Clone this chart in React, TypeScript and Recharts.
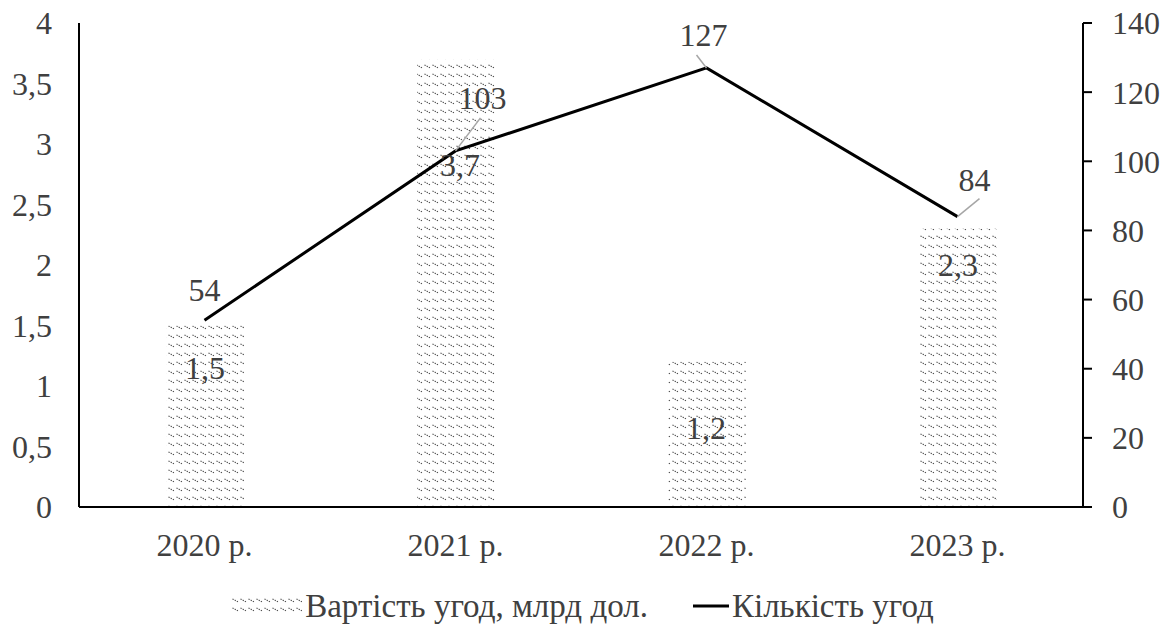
import {
  ComposedChart,
  Bar,
  Line,
  XAxis,
  YAxis,
  Legend,
  LabelList,
} from "recharts";

// ─── Data ────────────────────────────────────────────────────────────────────

const YEARS = ["2020 р.", "2021 р.", "2022 р.", "2023 р."];
const DEAL_VALUE = [1.5, 3.7, 1.2, 2.3]; // млрд дол.
const DEAL_COUNT = [54, 103, 127, 84];
const VALUE_TICKS = [0, 0.5, 1, 1.5, 2, 2.5, 3, 3.5, 4];
const COUNT_TICKS = [0, 20, 40, 60, 80, 100, 120, 140];

const VALUE_NAME = "Вартість угод, млрд дол.";
const COUNT_NAME = "Кількість угод";

const data = YEARS.map((year, i) => ({
  year,
  value: DEAL_VALUE[i],
  count: DEAL_COUNT[i],
}));

// ─── Styling ─────────────────────────────────────────────────────────────────

const FONT = "'Liberation Serif', 'Times New Roman', serif";
const TEXT = "#404040";
const FONT_SIZE = 32;

// hand-placed label offsets (relative to bar top / line point)
const BAR_LABEL_SHIFT = [
  { dx: 0, dy: 42 },
  { dx: 4, dy: 106 },
  { dx: -1, dy: 66 },
  { dx: 0, dy: 36 },
];

const LINE_LABEL_SHIFT = [
  { dx: 0, dy: -30, leader: null },
  { dx: 27, dy: -53, leader: { dx: 25, dy: -33 } },
  { dx: -3, dy: -33, leader: { dx: -10, dy: -13 } },
  { dx: 17, dy: -37, leader: { dx: 22, dy: -18 } },
];

const fmt = (v: number) => String(v).replace(".", ",");

// ─── Labels ──────────────────────────────────────────────────────────────────

function BarValueLabel(props: any) {
  const { x, y, width, value, index } = props;
  const s = BAR_LABEL_SHIFT[index] ?? { dx: 0, dy: 0 };
  return (
    <text
      x={x + width / 2 + s.dx}
      y={y + s.dy}
      textAnchor="middle"
      dominantBaseline="central"
      fontFamily={FONT}
      fontSize={FONT_SIZE}
      fill={TEXT}
    >
      {fmt(value)}
    </text>
  );
}

function CountLabel(props: any) {
  const { x, y, value, index } = props;
  const s = LINE_LABEL_SHIFT[index];
  if (!s) return null;
  return (
    <g>
      {s.leader && (
        <line
          x1={x}
          y1={y}
          x2={x + s.leader.dx}
          y2={y + s.leader.dy}
          stroke="#a6a6a6"
          strokeWidth={1.5}
        />
      )}
      <text
        x={x + s.dx}
        y={y + s.dy}
        textAnchor="middle"
        dominantBaseline="central"
        fontFamily={FONT}
        fontSize={FONT_SIZE}
        fill={TEXT}
      >
        {value}
      </text>
    </g>
  );
}

// ─── Hatch pattern ───────────────────────────────────────────────────────────

// rows of short dotted "\" strokes, like Excel's dashed diagonal fill
function HatchPattern({ id }: { id: string }) {
  return (
    <pattern id={id} width={8} height={9} patternUnits="userSpaceOnUse">
      <path
        d="M0.5 2 L6.5 5"
        stroke="#4a4a4a"
        strokeWidth={1.1}
        strokeDasharray="1.3 1.1"
      />
    </pattern>
  );
}

// ─── Legend ──────────────────────────────────────────────────────────────────

function ChartLegend() {
  const label = { fontFamily: FONT, fontSize: 33, color: TEXT };
  return (
    <div
      style={{
        display: "flex",
        justifyContent: "center",
        alignItems: "center",
        gap: 45,
        height: 46,
      }}
    >
      <div style={{ display: "flex", alignItems: "center", gap: 3 }}>
        <svg width={70} height={18}>
          <defs>
            <HatchPattern id="hatchLegend" />
          </defs>
          <rect x={0} y={1} width={70} height={17} fill="url(#hatchLegend)" />
        </svg>
        <span style={label}>{VALUE_NAME}</span>
      </div>
      <div style={{ display: "flex", alignItems: "center", gap: 3 }}>
        <svg width={36} height={18}>
          <line x1={0} y1={9} x2={36} y2={9} stroke="#000" strokeWidth={3} />
        </svg>
        <span style={label}>{COUNT_NAME}</span>
      </div>
    </div>
  );
}

// ─── Chart ───────────────────────────────────────────────────────────────────

export default function App() {
  return (
    <div style={{ width: 1166, height: 633, background: "#fff" }}>
      <style>{`body { margin: 0; }`}</style>
      <ComposedChart
        width={1166}
        height={633}
        data={data}
        margin={{ top: 23, right: 0, left: 0, bottom: 4 }}
      >
        <defs>
          <HatchPattern id="hatchBar" />
        </defs>
        <XAxis
          dataKey="year"
          height={76}
          axisLine={{ stroke: "#000", strokeWidth: 2 }}
          tickLine={false}
          tickSize={0}
          tickMargin={26}
          tick={{ fontFamily: FONT, fontSize: FONT_SIZE, fill: TEXT }}
        />
        <YAxis
          yAxisId="value"
          width={79}
          domain={[0, 4]}
          ticks={VALUE_TICKS}
          tickFormatter={fmt}
          axisLine={{ stroke: "#000", strokeWidth: 2 }}
          tickLine={false}
          tickSize={0}
          tickMargin={27}
          tick={{ fontFamily: FONT, fontSize: FONT_SIZE, fill: TEXT }}
        />
        <YAxis
          yAxisId="count"
          orientation="right"
          width={83}
          domain={[0, 140]}
          ticks={COUNT_TICKS}
          axisLine={{ stroke: "#000", strokeWidth: 2 }}
          tickLine={{ stroke: "#000", strokeWidth: 2 }}
          tickSize={9}
          tickMargin={20}
          tick={{ fontFamily: FONT, fontSize: FONT_SIZE, fill: TEXT }}
        />
        <Legend verticalAlign="bottom" height={46} content={<ChartLegend />} />
        <Bar
          yAxisId="value"
          dataKey="value"
          name={VALUE_NAME}
          barSize={78}
          fill="url(#hatchBar)"
          isAnimationActive={false}
        >
          <LabelList dataKey="value" content={(p: any) => <BarValueLabel {...p} />} />
        </Bar>
        <Line
          yAxisId="count"
          dataKey="count"
          name={COUNT_NAME}
          type="linear"
          stroke="#000"
          strokeWidth={3}
          dot={false}
          isAnimationActive={false}
        >
          <LabelList dataKey="count" content={(p: any) => <CountLabel {...p} />} />
        </Line>
      </ComposedChart>
    </div>
  );
}
